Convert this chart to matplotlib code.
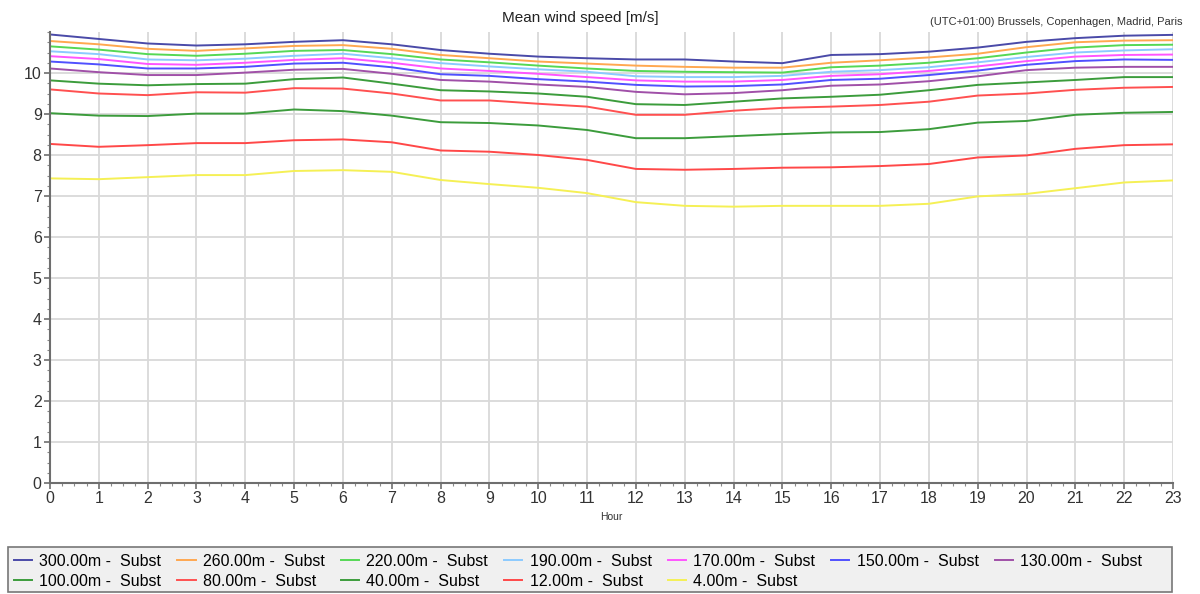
import matplotlib
matplotlib.use("Agg")
import matplotlib.pyplot as plt
from matplotlib.ticker import MultipleLocator
from matplotlib.patches import Rectangle

plt.rcParams['font.family'] = ['Liberation Sans', 'DejaVu Sans']

hours = list(range(24))

h300 = [10.94, 10.83, 10.72, 10.67, 10.70, 10.76, 10.80, 10.70, 10.56, 10.47, 10.40, 10.36,
        10.33, 10.33, 10.28, 10.24, 10.44, 10.46, 10.52, 10.62, 10.76, 10.85, 10.91, 10.93]
h260 = [10.78, 10.70, 10.59, 10.54, 10.60, 10.66, 10.68, 10.59, 10.44, 10.36, 10.28, 10.23,
        10.18, 10.15, 10.13, 10.13, 10.25, 10.31, 10.38, 10.47, 10.63, 10.75, 10.79, 10.80]
h220 = [10.65, 10.57, 10.46, 10.42, 10.47, 10.54, 10.56, 10.46, 10.33, 10.26, 10.18, 10.11,
        10.05, 10.03, 10.02, 10.01, 10.14, 10.18, 10.25, 10.36, 10.50, 10.62, 10.68, 10.69]
h190 = [10.53, 10.46, 10.33, 10.31, 10.35, 10.42, 10.47, 10.36, 10.24, 10.16, 10.09, 10.03,
        9.92, 9.90, 9.90, 9.93, 10.03, 10.07, 10.14, 10.26, 10.39, 10.50, 10.55, 10.58]
h170 = [10.41, 10.34, 10.22, 10.20, 10.25, 10.32, 10.36, 10.25, 10.11, 10.05, 9.98, 9.90,
        9.82, 9.79, 9.79, 9.83, 9.93, 9.97, 10.05, 10.16, 10.29, 10.40, 10.44, 10.45]
h150 = [10.28, 10.21, 10.11, 10.11, 10.15, 10.23, 10.25, 10.14, 9.97, 9.93, 9.85, 9.79,
        9.71, 9.67, 9.68, 9.72, 9.83, 9.86, 9.95, 10.06, 10.20, 10.29, 10.33, 10.32]
h130 = [10.11, 10.02, 9.95, 9.95, 10.01, 10.08, 10.10, 9.98, 9.83, 9.79, 9.72, 9.66,
        9.54, 9.48, 9.51, 9.58, 9.69, 9.72, 9.80, 9.92, 10.07, 10.13, 10.15, 10.15]
h100 = [9.82, 9.74, 9.70, 9.73, 9.74, 9.85, 9.89, 9.74, 9.58, 9.55, 9.50, 9.42,
        9.24, 9.22, 9.30, 9.38, 9.42, 9.47, 9.58, 9.71, 9.77, 9.83, 9.90, 9.90]
h80 = [9.60, 9.50, 9.46, 9.53, 9.52, 9.63, 9.62, 9.50, 9.33, 9.33, 9.25, 9.18,
       8.98, 8.98, 9.08, 9.15, 9.18, 9.22, 9.30, 9.45, 9.50, 9.59, 9.64, 9.66]
h40 = [9.02, 8.96, 8.95, 9.01, 9.01, 9.11, 9.07, 8.96, 8.80, 8.78, 8.72, 8.61,
       8.41, 8.41, 8.46, 8.51, 8.55, 8.56, 8.63, 8.79, 8.83, 8.98, 9.03, 9.05]
h12 = [8.27, 8.20, 8.24, 8.29, 8.29, 8.36, 8.38, 8.31, 8.11, 8.08, 8.00, 7.88,
       7.66, 7.64, 7.66, 7.69, 7.70, 7.73, 7.78, 7.94, 7.99, 8.15, 8.24, 8.26]
h4 = [7.43, 7.41, 7.46, 7.51, 7.51, 7.61, 7.63, 7.59, 7.39, 7.29, 7.20, 7.07,
      6.85, 6.76, 6.74, 6.76, 6.76, 6.76, 6.81, 6.99, 7.05, 7.19, 7.33, 7.38]

series = [
    ("300.00m -  Subst", h300, "#4a4aa8"),
    ("260.00m -  Subst", h260, "#ffa850"),
    ("220.00m -  Subst", h220, "#55d855"),
    ("190.00m -  Subst", h190, "#8ccaff"),
    ("170.00m -  Subst", h170, "#ff55ff"),
    ("150.00m -  Subst", h150, "#5050ff"),
    ("130.00m -  Subst", h130, "#a050a8"),
    ("100.00m -  Subst", h100, "#3c9c3c"),
    ("80.00m -  Subst", h80, "#ff5050"),
    ("40.00m -  Subst", h40, "#3c9c3c"),
    ("12.00m -  Subst", h12, "#ff4848"),
    ("4.00m -  Subst", h4, "#f5f055"),
]

fig = plt.figure(figsize=(12, 5.94), dpi=100)
ax = fig.add_axes([50 / 1200, 111 / 594, 1123 / 1200, 451 / 594])

lines = []
for label, vals, col in series:
    ln, = ax.plot(hours, vals, color=col, lw=1.4, label=label)
    lines.append(ln)

ax.set_xlim(0, 23)
ax.set_ylim(0, 11)
ax.set_yticks(range(11))
ax.xaxis.set_major_locator(MultipleLocator(1))
ax.xaxis.set_minor_locator(MultipleLocator(0.25))
ax.yaxis.set_minor_locator(MultipleLocator(0.25))
ax.grid(True, which='major', color='#d9d9d9', lw=1.3)
ax.set_axisbelow(True)
for s in ['top', 'right']:
    ax.spines[s].set_visible(False)
for s in ['left', 'bottom']:
    ax.spines[s].set_color('#6e6e6e')
    ax.spines[s].set_linewidth(1.5)
ax.tick_params(which='major', length=4, width=1.2, color='#6e6e6e', labelsize=11.5,
               labelcolor='#333333', pad=2)
ax.tick_params(which='minor', length=2, width=0.8, color='#888888')

ax.set_xlabel("Hour", fontsize=7.5, color='#333333', labelpad=4)
fig.text(580 / 1200, 1 - 18 / 594, "Mean wind speed [m/s]", fontsize=11, color='#222222',
         ha='center', va='center')
fig.text(1183 / 1200, 1 - 22 / 594, "(UTC+01:00) Brussels, Copenhagen, Madrid, Paris",
         fontsize=8, color='#333333', ha='right', va='center')

# legend box drawn separately, entries filled row by row
fig.patches.append(Rectangle((8 / 1200, 2 / 594), 1164 / 1200, 45 / 594,
                             transform=fig.transFigure, facecolor='#f0f0f0',
                             edgecolor='#777777', lw=1.2, zorder=0))
order = [0, 7, 1, 8, 2, 9, 3, 10, 4, 11, 5, 6]
fig.legend([lines[i] for i in order], [series[i][0] for i in order],
           loc='upper left', bbox_to_anchor=(9 / 1200, 1 - 549 / 594),
           ncol=7, fontsize=11.5, frameon=False, handlelength=1.15,
           handletextpad=0.45, columnspacing=1.0, labelspacing=0.3,
           borderpad=0.0, borderaxespad=0.3)

fig.savefig("out.png", dpi=100)
